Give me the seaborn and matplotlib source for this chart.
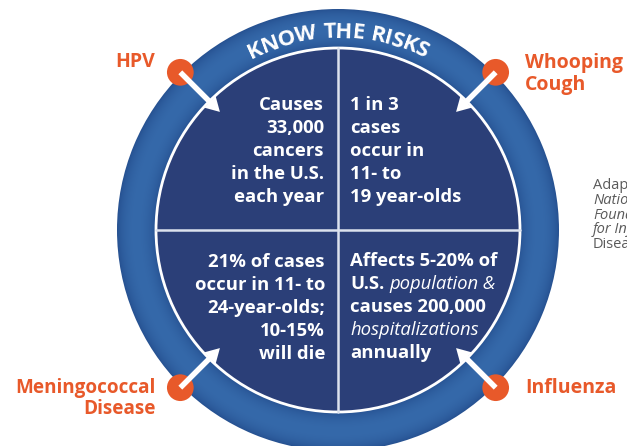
import numpy as np
import pandas as pd
import matplotlib
matplotlib.use("Agg")
import matplotlib.pyplot as plt
import seaborn as sns
from matplotlib.patches import Circle, Wedge, FancyArrow

# ---------------- data ----------------
title = "KNOW THE RISKS"
diseases = ["HPV", "Whooping\nCough", "Meningococcal\nDisease", "Influenza"]
facts_hpv = ["Causes", "33,000", "cancers", "in the U.S.", "each year"]
facts_whoop = ["1 in 3", "cases", "occur in", "11- to", "19 year-olds"]
facts_mening = ["21% of cases", "occur in 11- to", "24-year-olds;", "10-15%", "will die"]
facts_flu = [
    [("Affects 5-20% of", "b")],
    [("U.S.", "b"), ("population &", "i")],
    [("causes 200,000", "b")],
    [("hospitalizations", "i")],
    [("annually", "b")],
]
source = ["Adapted from", "National", "Foundation", "for Infectious", "Diseases"]
source_style = ["normal", "italic", "italic", "italic", "normal"]

# ---------------- layout / style ----------------
W, H = 627, 446
cx, cy = 338, 230
R_out, R_in, R_dot, R_tip = 221, 182, 223, 167
dot_angles = [135, 45, 225, 315]
ORANGE = "#E8592A"
INNER = "#2B3F78"
FONT = "Open Sans"

sns.set_theme(style="white")
plt.rcParams["font.family"] = [FONT, "DejaVu Sans"]

fig = plt.figure(figsize=(W / 100, H / 100), dpi=100)
ax = fig.add_axes([0, 0, 1, 1])
ax.set_xlim(0, W)
ax.set_ylim(H, 0)
ax.axis("off")

def pol(r, ang):
    a = np.deg2rad(ang)
    return cx + r * np.cos(a), cy - r * np.sin(a)

# ring with radial shading (image clipped to an annulus)
edge_c = np.array([0x24, 0x4E, 0x8E]) / 255
mid_c = np.array([0x35, 0x69, 0xAA]) / 255
xx, yy = np.meshgrid(np.arange(W) + 0.5, np.arange(H) + 0.5)
rr = np.hypot(xx - cx, yy - cy)
tt = np.clip((rr - R_in) / (R_out - R_in), 0, 1)
kk = np.sin(np.pi * tt) ** 0.6
img = edge_c[None, None, :] + (mid_c - edge_c)[None, None, :] * kk[..., None]
im = ax.imshow(img, extent=(0, W, H, 0), interpolation="bilinear", zorder=1)
ring = Wedge((cx, cy), R_out, 0, 360, width=R_out - R_in + 2,
             transform=ax.transData, fc="none", lw=0)
ax.add_patch(ring)
im.set_clip_path(ring)
ax.set_xlim(0, W)
ax.set_ylim(H, 0)

# inner disk and white rim
ax.add_patch(Circle((cx, cy), R_in, color=INNER, lw=0, zorder=2))
ax.add_patch(Circle((cx, cy), R_in, fill=False, ec="white", lw=2, zorder=3))
# dividers
ax.plot([cx, cx], [cy - R_in, cy + R_in], color="#DCE2EE", lw=1.8, zorder=3)
ax.plot([cx - R_in, cx + R_in], [cy, cy], color="#DCE2EE", lw=1.8, zorder=3)

# curved title
renderer = fig.canvas.get_renderer()
r_txt = 192
fs_title = 16
widths = []
for ch in title:
    t = ax.text(0, 0, ch if ch != " " else "n", fontsize=fs_title, fontweight="bold")
    w = t.get_window_extent(renderer).width
    if ch == " ":
        w *= 0.5
    widths.append(w - 0.8)
    t.remove()
total = sum(widths)
s = -total / 2
for ch, w in zip(title, widths):
    sc = s + w / 2
    ang = 90 - np.rad2deg(sc / r_txt)
    x, y = pol(r_txt, ang)
    if ch != " ":
        ax.text(x, y, ch, fontsize=fs_title, fontweight="bold", color="white",
                ha="center", va="baseline", rotation=ang - 90,
                rotation_mode="anchor", zorder=5)
    s += w

# quadrant facts
fs_fact = 13.3
for i, line in enumerate(facts_hpv):
    ax.text(324, 110 + 23 * i, line, fontsize=fs_fact, fontweight="bold",
            color="white", ha="right", va="baseline", zorder=5)
for i, line in enumerate(facts_whoop):
    ax.text(350, 110 + 23 * i, line, fontsize=fs_fact, fontweight="bold",
            color="white", ha="left", va="baseline", zorder=5)
for i, line in enumerate(facts_mening):
    ax.text(325, 267 + 23 * i, line, fontsize=fs_fact, fontweight="bold",
            color="white", ha="right", va="baseline", zorder=5)
for i, parts in enumerate(facts_flu):
    x = 350
    for txt, sty in parts:
        if sty == "b":
            t = ax.text(x, 266 + 23 * i, txt, fontsize=fs_fact, fontweight="bold",
                        color="white", ha="left", va="baseline", zorder=5)
        else:
            t = ax.text(x, 266 + 23 * i, txt, fontsize=fs_fact, fontweight="normal",
                        style="italic", color="white", ha="left", va="baseline", zorder=5)
        x += t.get_window_extent(renderer).width + 5

# orange dots via seaborn
dots = pd.DataFrame({"disease": diseases,
                     "x": [pol(R_dot, a)[0] for a in dot_angles],
                     "y": [pol(R_dot, a)[1] for a in dot_angles]})
sns.scatterplot(data=dots, x="x", y="y", ax=ax, s=370, color=ORANGE,
                edgecolor="none", zorder=6, legend=False)
ax.set_xlim(0, W)
ax.set_ylim(H, 0)
ax.axis("off")

# arrows
for a in dot_angles:
    x0, y0 = pol(R_dot, a)
    x1, y1 = pol(R_tip, a)
    ax.add_patch(FancyArrow(x0, y0, x1 - x0, y1 - y0, width=5.5, head_width=16,
                            head_length=14, length_includes_head=True,
                            color="white", lw=0, zorder=7))

# disease labels
lab = dict(fontsize=14, fontweight="bold", color=ORANGE, va="baseline")
ax.text(155, 67, diseases[0], ha="right", **lab)
for i, l in enumerate(diseases[1].split("\n")):
    ax.text(525, 68 + 22 * i, l, ha="left", **lab)
for i, l in enumerate(diseases[2].split("\n")):
    ax.text(156, 393 + 21 * i, l, ha="right", fontsize=13.6, fontweight="bold",
            color=ORANGE, va="baseline")
ax.text(525, 393, diseases[3], ha="left", **lab)

# source (cut off at the right edge, as in the original)
for i, (l, st) in enumerate(zip(source, source_style)):
    ax.text(593, 189 + 14.8 * i, l, fontsize=10.5, style=st, color="#5A5A5A",
            ha="left", va="baseline", zorder=5)

fig.savefig("out.png", dpi=100)
